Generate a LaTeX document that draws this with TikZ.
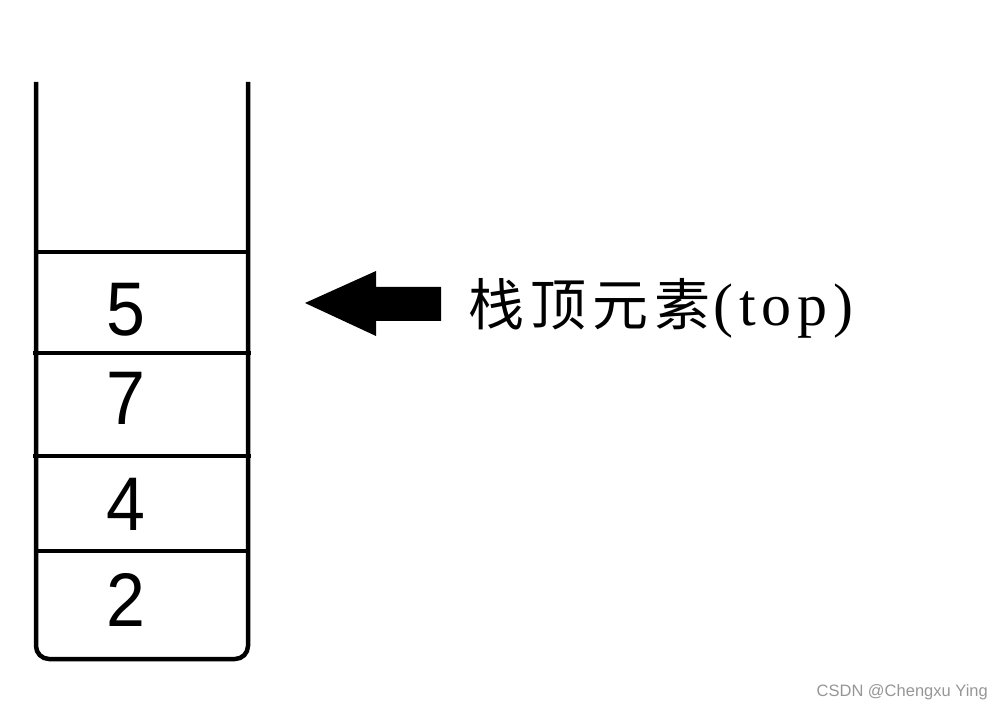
\documentclass[tikz,border=0pt]{standalone}
\usepackage{fontspec}
\setmainfont{Liberation Serif}
\newfontfamily\cjk{Noto Sans CJK SC}
\newfontfamily\digitfont{Liberation Sans}
\newfontfamily\wmfont{Liberation Sans}
\newfontfamily\topfont[LetterSpace=10]{Liberation Serif}
\definecolor{wmgray}{RGB}{150,150,150}
\begin{document}
\begin{tikzpicture}[x=1pt,y=-1pt,
  wall/.style={line width=4.5pt,line cap=butt},
  digit/.style={font=\digitfont\fontsize{76}{76}\selectfont,inner sep=0pt,anchor=center,xscale=0.92},
  label/.style={inner sep=0pt,anchor=west}]
\useasboundingbox (0,0) rectangle (1004,711);
% container
\draw[wall,rounded corners=13pt] (36,82) -- (36,659) -- (248,659) -- (248,82);
\draw[wall] (36,252) -- (248,252);
\draw[wall] (33,353) -- (251,353);
\draw[wall] (33,456) -- (251,456);
\draw[wall] (36,551) -- (248,551);
% digits
\node[digit] (d5) at (126,310) {5};
\node[digit] (d7) at (126,398) {7};
\node[digit] (d4) at (126,504) {4};
\node[digit] (d2) at (126,600) {2};
% arrow
\fill (305,303) -- (376,271) -- (376,287) -- (441,287) -- (441,321) -- (376,321) -- (376,336) -- cycle;
% label
\node[label] (lbl) at (468,308) {{\cjk\fontsize{56}{56}\selectfont 栈\hspace{6pt}顶\hspace{6pt}元\hspace{6pt}素}{\topfont\fontsize{60}{60}\selectfont\hspace{3pt}(top)}};
% watermark
\node[inner sep=0pt,anchor=east,text=wmgray,font=\wmfont\fontsize{16.5}{16.5}\selectfont] (wm) at (988,692) {CSDN @Chengxu Ying};
\end{tikzpicture}
\end{document}
